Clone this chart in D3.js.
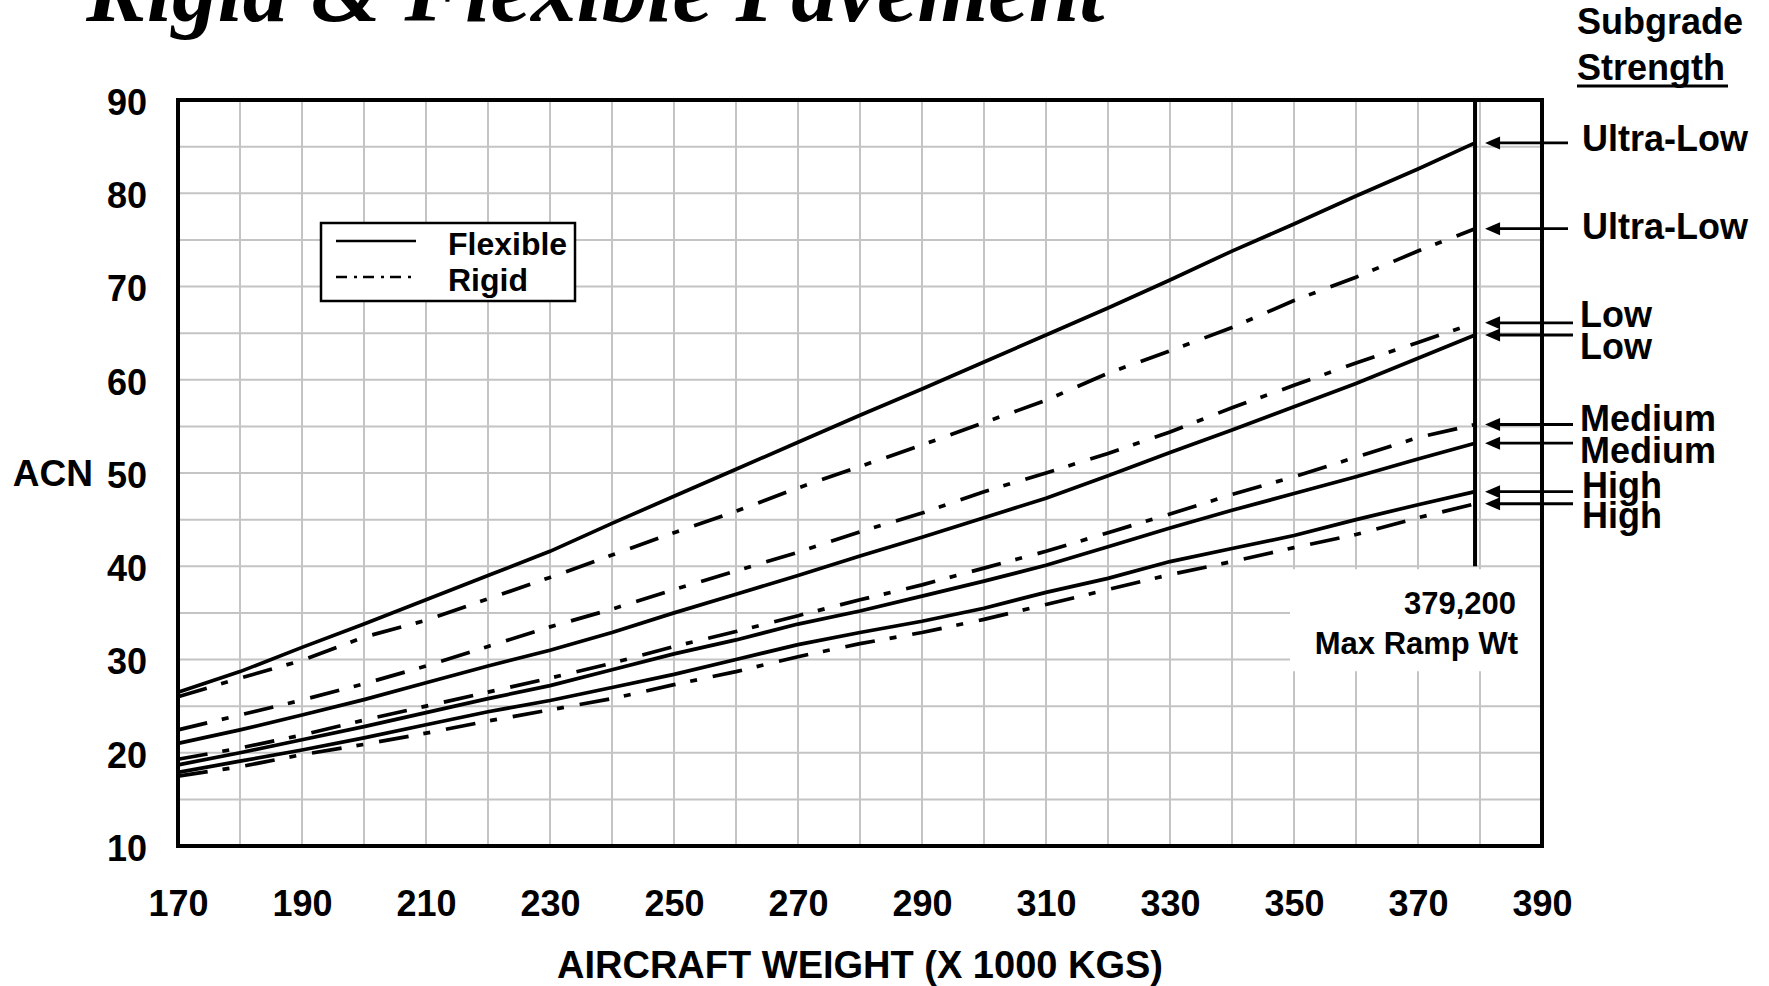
<!DOCTYPE html>
<html>
<head>
<meta charset="utf-8">
<script src="https://cdn.jsdelivr.net/npm/d3@7"></script>
<style>
  body { margin: 0; background: #fff; }
  svg { display: block; }
  text { font-family: "Liberation Sans", Arial, sans-serif; font-weight: bold; fill: #000; }
</style>
</head>
<body>
<svg id="chart" width="1769" height="986"></svg>
<script>
// aircraft weight (x 1000 kg) where the curves were read
const weights = [170, 180, 190, 200, 210, 220, 230, 240, 250, 260, 270, 280, 290, 300, 310, 320, 330, 340, 350, 360, 370, 379.2];

// ACN values, flexible pavement
const flexUltraLow = [26.5, 28.7, 31.3, 33.8, 36.4, 39.0, 41.6, 44.6, 47.5, 50.4, 53.3, 56.2, 59.0, 61.9, 64.8, 67.7, 70.7, 73.8, 76.7, 79.7, 82.6, 85.4];
const flexLow      = [21.0, 22.45, 24.05, 25.7, 27.5, 29.3, 31.0, 32.9, 35.0, 37.0, 39.0, 41.1, 43.1, 45.2, 47.3, 49.7, 52.2, 54.6, 57.1, 59.6, 62.3, 64.8];
const flexMedium   = [18.7, 20.0, 21.4, 22.8, 24.3, 25.8, 27.2, 28.9, 30.6, 32.1, 33.8, 35.2, 36.8, 38.4, 40.1, 42.1, 44.1, 46.0, 47.8, 49.6, 51.5, 53.2];
const flexHigh     = [17.9, 19.1, 20.3, 21.6, 23.0, 24.4, 25.6, 27.0, 28.4, 30.0, 31.6, 32.9, 34.1, 35.5, 37.2, 38.7, 40.5, 41.9, 43.3, 45.0, 46.6, 48.0];

// ACN values, rigid pavement
const rigidUltraLow = [26.0, 28.0, 29.9, 32.4, 34.2, 36.5, 38.8, 41.2, 43.6, 45.9, 48.4, 50.7, 53.0, 55.4, 57.8, 60.7, 63.1, 65.6, 68.5, 71.0, 73.8, 76.2];
const rigidLow      = [22.45, 24.05, 25.65, 27.4, 29.3, 31.4, 33.5, 35.4, 37.5, 39.5, 41.5, 43.7, 45.7, 48.0, 50.0, 52.1, 54.4, 57.0, 59.4, 61.8, 64.0, 66.1];
const rigidMedium   = [19.3, 20.5, 21.9, 23.5, 25.0, 26.5, 28.0, 29.6, 31.4, 33.0, 34.7, 36.4, 38.0, 39.8, 41.6, 43.6, 45.6, 47.7, 49.6, 51.7, 53.8, 55.2];
const rigidHigh     = [17.5, 18.5, 19.8, 20.9, 22.1, 23.4, 24.6, 25.8, 27.3, 28.7, 30.3, 31.7, 32.9, 34.3, 35.9, 37.5, 39.1, 40.5, 42.0, 43.4, 45.2, 46.7];

const xTicks = [170, 190, 210, 230, 250, 270, 290, 310, 330, 350, 370, 390];
const yTicks = [10, 20, 30, 40, 50, 60, 70, 80, 90];
const maxRampWeight = 379.2;

const series = [
  { values: flexUltraLow,  type: 'Flexible', label: 'Ultra-Low', dy: 8 },
  { values: rigidUltraLow, type: 'Rigid',    label: 'Ultra-Low', dy: 10 },
  { values: rigidLow,      type: 'Rigid',    label: 'Low',       dy: 4 },
  { values: flexLow,       type: 'Flexible', label: 'Low',       dy: 24 },
  { values: rigidMedium,   type: 'Rigid',    label: 'Medium',    dy: 6 },
  { values: flexMedium,    type: 'Flexible', label: 'Medium',    dy: 20 },
  { values: flexHigh,      type: 'Flexible', label: 'High',      dy: 6 },
  { values: rigidHigh,     type: 'Rigid',    label: 'High',      dy: 24 }
];

const rigidDash = '30,15,7,16';

const svg = d3.select('#chart');
const plot = { left: 178, right: 1542, top: 100, bottom: 846 };

const x = d3.scaleLinear().domain([170, 390]).range([plot.left, plot.right]);
const y = d3.scaleLinear().domain([10, 90]).range([plot.bottom, plot.top]);

// title (cut off at the top edge like the source)
svg.append('text')
  .attr('x', 86).attr('y', 21)
  .style('font-family', '"Liberation Serif", "Times New Roman", serif')
  .style('font-style', 'italic')
  .style('font-size', '91px')
  .text('Rigid & Flexible Pavement');

// grid
const grid = svg.append('g').attr('stroke', '#c4c4c4').attr('stroke-width', 2);
grid.selectAll('.vg').data(d3.range(180, 390, 10)).enter().append('line')
  .attr('x1', d => x(d)).attr('x2', d => x(d)).attr('y1', plot.top).attr('y2', plot.bottom);
grid.selectAll('.hg').data(d3.range(15, 90, 5)).enter().append('line')
  .attr('x1', plot.left).attr('x2', plot.right).attr('y1', d => y(d)).attr('y2', d => y(d));

// white panel behind max ramp note
svg.append('rect')
  .attr('x', 1290).attr('y', y(40) + 3)
  .attr('width', plot.right - 1290).attr('height', 102)
  .attr('fill', '#fff');

// curves
const line = d3.line()
  .x((d, i) => x(weights[i]))
  .y(d => y(d));

svg.append('g').selectAll('path').data(series).enter().append('path')
  .attr('d', d => line(d.values))
  .attr('fill', 'none')
  .attr('stroke', '#000')
  .attr('stroke-width', 3.7)
  .attr('stroke-dasharray', d => d.type === 'Rigid' ? rigidDash : null);

// max ramp weight line
svg.append('line')
  .attr('x1', x(maxRampWeight)).attr('x2', x(maxRampWeight))
  .attr('y1', plot.top).attr('y2', y(40))
  .attr('stroke', '#000').attr('stroke-width', 4);

svg.append('text').attr('x', 1516).attr('y', 614)
  .attr('text-anchor', 'end').style('font-size', '31px').text('379,200');
svg.append('text').attr('x', 1518).attr('y', 654)
  .attr('text-anchor', 'end').style('font-size', '31px').text('Max Ramp Wt');

// frame
svg.append('rect')
  .attr('x', plot.left).attr('y', plot.top)
  .attr('width', plot.right - plot.left).attr('height', plot.bottom - plot.top)
  .attr('fill', 'none').attr('stroke', '#000').attr('stroke-width', 4);

// axes
const xAxis = svg.append('g')
  .attr('transform', `translate(0,${plot.bottom})`)
  .call(d3.axisBottom(x).tickValues(xTicks).tickSize(0).tickPadding(44).tickFormat(d3.format('d')));
const yAxis = svg.append('g')
  .attr('transform', `translate(${plot.left},0)`)
  .call(d3.axisLeft(y).tickValues(yTicks).tickSize(0).tickPadding(31).tickFormat(d3.format('d')));
[xAxis, yAxis].forEach(a => {
  a.select('.domain').remove();
  a.selectAll('text')
    .style('font-family', '"Liberation Sans", Arial, sans-serif')
    .style('font-weight', 'bold')
    .style('font-size', '36px')
    .attr('fill', '#000');
});
yAxis.selectAll('text').attr('dy', '0.4em');

svg.append('text')
  .attr('x', (plot.left + plot.right) / 2).attr('y', 978)
  .attr('text-anchor', 'middle').style('font-size', '38px')
  .text('AIRCRAFT WEIGHT (X 1000 KGS)');

svg.append('text')
  .attr('x', 93).attr('y', y(50)).attr('dy', '0.36em')
  .attr('text-anchor', 'end').style('font-size', '37px')
  .text('ACN');

// subgrade header
svg.append('text').attr('x', 1577).attr('y', 34).style('font-size', '36px').text('Subgrade');
svg.append('text').attr('x', 1577).attr('y', 80).style('font-size', '36px').text('Strength');
svg.append('line').attr('x1', 1577).attr('x2', 1728).attr('y1', 86).attr('y2', 86)
  .attr('stroke', '#000').attr('stroke-width', 3);

// arrows to curve ends + labels
const tipX = x(maxRampWeight) + 10;
const arrows = svg.append('g').selectAll('g').data(series).enter().append('g');
arrows.append('line')
  .attr('x1', tipX + 6)
  .attr('x2', d => d.label === 'Ultra-Low' ? 1568 : 1573)
  .attr('y1', d => y(d3.max(d.values))).attr('y2', d => y(d3.max(d.values)))
  .attr('stroke', '#000').attr('stroke-width', 2.8);
arrows.append('path')
  .attr('d', d => {
    const ay = y(d3.max(d.values));
    return `M${tipX},${ay}L${tipX + 15},${ay - 6.5}L${tipX + 15},${ay + 6.5}Z`;
  })
  .attr('fill', '#000');
arrows.append('text')
  .attr('x', d => d.label === 'Ultra-Low' || d.label === 'High' ? 1582 : 1580)
  .attr('y', d => y(d3.max(d.values)) + d.dy)
  .style('font-size', '36px')
  .text(d => d.label);

// legend
const legend = svg.append('g');
legend.append('rect')
  .attr('x', 321).attr('y', 223).attr('width', 254).attr('height', 78)
  .attr('fill', '#fff').attr('stroke', '#000').attr('stroke-width', 2.5);
const legendItems = ['Flexible', 'Rigid'];
legendItems.forEach((name, i) => {
  legend.append('line')
    .attr('x1', 336).attr('x2', 416)
    .attr('y1', 241 + i * 36).attr('y2', 241 + i * 36)
    .attr('stroke', '#000').attr('stroke-width', 2.5)
    .attr('stroke-dasharray', name === 'Rigid' ? '11,7,3,6' : null);
  legend.append('text')
    .attr('x', 448).attr('y', 255 + i * 36)
    .style('font-size', '32px')
    .text(name);
});
</script>
</body>
</html>
